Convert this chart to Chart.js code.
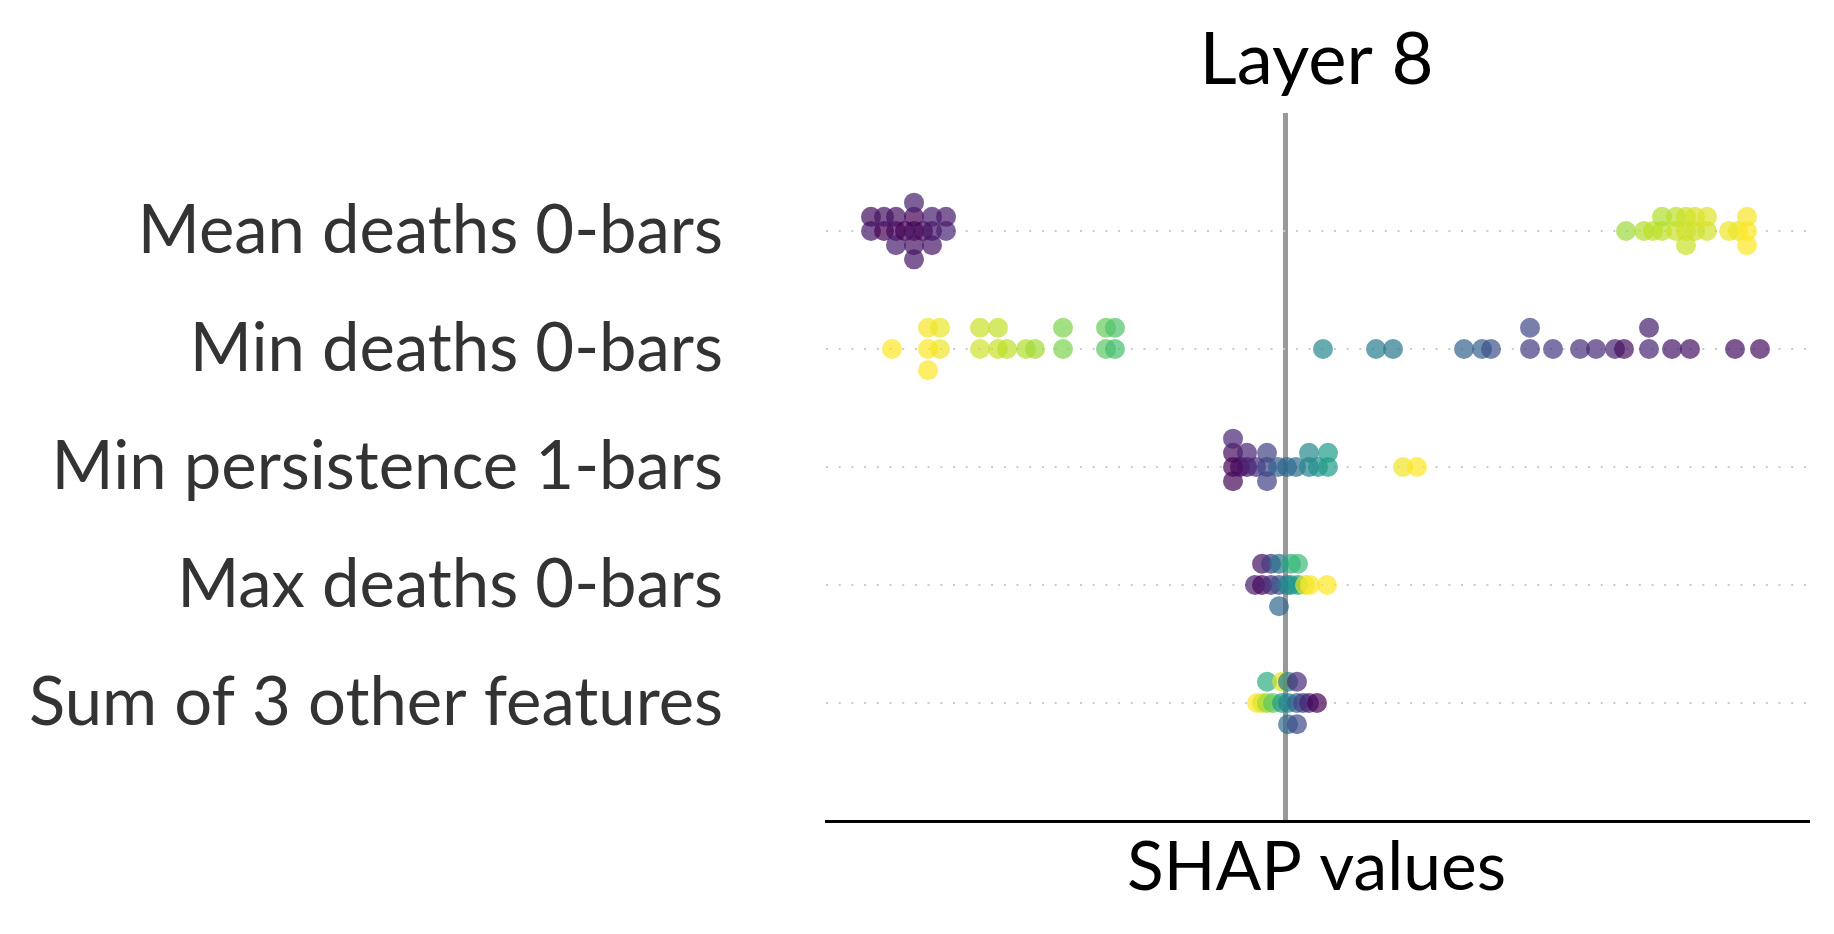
<!DOCTYPE html>
<html>
<head>
<meta charset="utf-8">
<script src="https://cdn.jsdelivr.net/npm/chart.js@4"></script>
<style>
  html, body { margin: 0; padding: 0; background: #fff; }
  #chart { display: block; }
</style>
</head>
<body>
<canvas id="chart" width="1834" height="934"></canvas>
<script>
const features = ['Mean deaths 0-bars', 'Min deaths 0-bars', 'Min persistence 1-bars', 'Max deaths 0-bars', 'Sum of 3 other features'];

// shap value per sample, and the scaled feature value (0 = low, 1 = high) for the colour
const shapMeanDeaths0 = [-0.414, -0.414, -0.401, -0.401, -0.389, -0.389, -0.389, -0.380,
  -0.371, -0.371, -0.371, -0.371, -0.371, -0.362, -0.353, -0.353, -0.353, -0.339, -0.339,
  0.341, 0.359, 0.368, 0.377, 0.377, 0.391, 0.391, 0.401, 0.401, 0.401, 0.410, 0.410,
  0.422, 0.422, 0.444, 0.453, 0.462, 0.462, 0.462];
const featMeanDeaths0 = [0.06, 0.03, 0.00, 0.05, 0.02, 0.04, 0.08, 0.00,
  0.03, 0.00, 0.05, 0.08, 0.06, 0.02, 0.05, 0.08, 0.06, 0.10, 0.07,
  0.85, 0.88, 0.90, 0.90, 0.88, 0.92, 0.90, 0.93, 0.92, 0.92, 0.92, 0.94,
  0.93, 0.95, 0.98, 0.97, 1.00, 0.99, 1.00];

const shapMinDeaths0 = [-0.393, -0.357, -0.357, -0.357, -0.345, -0.345, -0.305, -0.305,
  -0.287, -0.287, -0.278, -0.259, -0.250, -0.222, -0.222, -0.179, -0.179, -0.170, -0.170,
  0.038, 0.091, 0.108, 0.179, 0.197, 0.206, 0.245, 0.245, 0.268, 0.295, 0.311,
  0.330, 0.339, 0.364, 0.364, 0.387, 0.405, 0.450, 0.475];
const featMinDeaths0 = [1.00, 1.00, 0.99, 1.00, 0.98, 0.97, 0.93, 0.92,
  0.92, 0.91, 0.90, 0.88, 0.86, 0.80, 0.80, 0.74, 0.76, 0.70, 0.72,
  0.47, 0.42, 0.40, 0.32, 0.30, 0.25, 0.17, 0.22, 0.17, 0.14, 0.12,
  0.10, 0.04, 0.10, 0.08, 0.06, 0.05, 0.04, 0.04];

const shapMinPers1 = [-0.052, -0.052, -0.052, -0.052, -0.045, -0.038, -0.038, -0.029,
  -0.018, -0.018, -0.018, -0.007, 0.002, 0.011, 0.024, 0.024, 0.033, 0.043, 0.043,
  0.118, 0.132];
const featMinPers1 = [0.00, 0.03, 0.02, 0.10, 0.02, 0.05, 0.10, 0.12,
  0.22, 0.20, 0.20, 0.30, 0.33, 0.36, 0.45, 0.47, 0.50, 0.55, 0.55,
  0.98, 1.00];

const shapMaxDeaths0 = [-0.030, -0.023, -0.023, -0.014, -0.014, -0.006, -0.006, -0.006,
  0.002, 0.006, 0.006, 0.013, 0.013, 0.020, 0.025, 0.042];
const featMaxDeaths0 = [0.08, 0.02, 0.05, 0.12, 0.18, 0.25, 0.40, 0.33,
  0.42, 0.50, 0.62, 0.55, 0.68, 0.95, 1.00, 1.00];

const shapOther = [-0.028, -0.023, -0.018, -0.018, -0.012, -0.003, -0.003, 0.003,
  0.003, 0.003, 0.012, 0.012, 0.012, 0.018, 0.024, 0.032];
const featOther = [1.00, 0.95, 0.85, 0.62, 0.75, 0.55, 0.95, 0.45,
  0.42, 0.35, 0.30, 0.12, 0.22, 0.20, 0.10, 0.00];

const rows = [
  {shap: shapMeanDeaths0, feat: featMeanDeaths0},
  {shap: shapMinDeaths0, feat: featMinDeaths0},
  {shap: shapMinPers1, feat: featMinPers1},
  {shap: shapMaxDeaths0, feat: featMaxDeaths0},
  {shap: shapOther, feat: featOther}
];

const FONT = 'Lato';

// viridis colour map
const viridisStops = ['#440154', '#482878', '#3e4989', '#31688e', '#26828e', '#1f9e89', '#35b779', '#6ece58', '#b5de2b', '#fde725'];
function hexRgb(h) {
  return [parseInt(h.slice(1, 3), 16), parseInt(h.slice(3, 5), 16), parseInt(h.slice(5, 7), 16)];
}
function viridis(t, alpha) {
  const p = Math.min(Math.max(t, 0), 1) * (viridisStops.length - 1);
  const i = Math.min(Math.floor(p), viridisStops.length - 2);
  const f = p - i;
  const a = hexRgb(viridisStops[i]), b = hexRgb(viridisStops[i + 1]);
  const c = a.map((v, k) => Math.round(v + (b[k] - v) * f));
  return 'rgba(' + c[0] + ',' + c[1] + ',' + c[2] + ',' + alpha + ')';
}

// same stacking as shap's beeswarm: bin the values, pile points up 0, +1, -1, +2, -2 ...
function swarm(xs) {
  const nbins = 100, rowHeight = 0.4;
  const mn = Math.min(...xs), mx = Math.max(...xs);
  const quant = xs.map(v => Math.round(nbins * (v - mn) / (mx - mn + 1e-8)));
  const order = xs.map((_, i) => i).sort((a, b) => quant[a] - quant[b] || a - b);
  const ys = new Array(xs.length).fill(0);
  let layer = 0, last = -1;
  for (const i of order) {
    if (quant[i] !== last) layer = 0;
    ys[i] = Math.ceil(layer / 2) * ((layer % 2) * 2 - 1);
    layer++;
    last = quant[i];
  }
  const m = Math.max(...ys.map(y => y + 1));
  return ys.map(y => y * 0.9 * (rowHeight / m));
}

function fitFont(text, width) {
  const c = document.createElement('canvas').getContext('2d');
  c.font = '100px ' + FONT;
  return 100 * width / c.measureText(text).width;
}

const labelSize = fitFont(features[4], 694);
const titleSize = fitFont('Layer 8', 234);
const xTitleSize = fitFont('SHAP values', 379);
const titleLH = titleSize * 1.2;
const xTitleLH = xTitleSize * 1.2;

const datasets = rows.map((r, i) => {
  const pos = features.length - 1 - i;
  const ys = swarm(r.shap);
  return {
    label: features[i],
    data: r.shap.map((v, k) => ({x: v, y: pos + ys[k]})),
    pointBackgroundColor: r.feat.map(f => viridis(f, 0.7)),
    pointBorderWidth: 0,
    pointRadius: 10,
    pointHoverRadius: 10
  };
});

new Chart(document.getElementById('chart'), {
  type: 'scatter',
  data: {datasets: datasets},
  options: {
    responsive: false,
    animation: false,
    devicePixelRatio: 1,
    events: [],
    layout: {padding: {left: 0, right: 27, top: 0, bottom: 0}},
    plugins: {
      legend: {display: false},
      tooltip: {enabled: false},
      title: {
        display: true,
        text: 'Layer 8',
        fullSize: false,
        color: '#000000',
        font: {family: FONT, size: titleSize, weight: 'normal', lineHeight: 1.2},
        padding: {top: 61 - titleLH / 2, bottom: 113 - titleLH - (61 - titleLH / 2)}
      }
    },
    scales: {
      x: {
        type: 'linear',
        min: -0.459,
        max: 0.522,
        afterBuildTicks: s => { s.ticks = [{value: 0}]; },
        afterFit: s => {
          s.height = 113;
          s.paddingLeft = 0;
          s.paddingRight = 0;
        },
        ticks: {display: false},
        grid: {color: '#999999', lineWidth: 5, drawTicks: false},
        border: {display: true, color: '#000000', width: 3},
        title: {
          display: true,
          text: 'SHAP values',
          color: '#000000',
          font: {family: FONT, size: xTitleSize, weight: 'normal', lineHeight: 1.2},
          padding: {top: 0, bottom: 934 - 868 - xTitleLH / 2}
        }
      },
      y: {
        type: 'linear',
        min: -1,
        max: 5,
        afterFit: s => {
          s.width = 826;
          s.paddingTop = 0;
          s.paddingBottom = 0;
        },
        ticks: {
          stepSize: 1,
          autoSkip: false,
          padding: 103,
          color: '#333333',
          font: {family: FONT, size: labelSize, weight: 'normal'},
          callback: v => (v >= 0 && v < features.length) ? features[features.length - 1 - v] : null
        },
        grid: {
          color: ctx => (ctx.tick && ctx.tick.value >= 0 && ctx.tick.value < features.length) ? '#cccccc' : 'rgba(0,0,0,0)',
          lineWidth: 2,
          drawTicks: false
        },
        border: {display: false, dash: [2, 10.7]}
      }
    }
  }
});
</script>
</body>
</html>
